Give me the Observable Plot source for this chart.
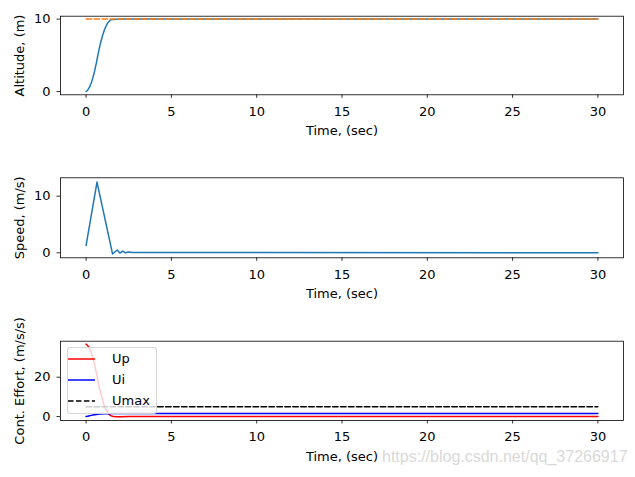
<!DOCTYPE html>
<html><head><meta charset="utf-8">
<script src="https://cdn.jsdelivr.net/npm/d3@7"></script>
<script src="https://cdn.jsdelivr.net/npm/@observablehq/plot@0.6"></script>
<style>
html,body{margin:0;padding:0;background:#fff;}
#fig{position:relative;width:635px;height:477px;overflow:hidden;font-family:"DejaVu Sans";}
#fig svg{position:absolute;left:0;top:0;}
#legend{position:absolute;left:67px;top:347px;width:90px;height:67px;box-sizing:border-box;background:rgba(255,255,255,0.8);border:1px solid rgba(204,204,204,0.8);border-radius:3px;}
.lrow{position:absolute;left:0;height:20px;}
.lrow svg{position:absolute;left:5px;top:0;}
.lrow span{position:absolute;left:44px;top:0;font:13px "DejaVu Sans";line-height:20px;color:#000;white-space:nowrap;}
#wm{position:absolute;left:382px;top:449px;font:16px "Liberation Sans";line-height:16px;color:#d9d9d9;white-space:nowrap;}
</style></head><body><div id="fig"></div>
<script>
// ---- data ----
const time     = [0,0.1,0.2,0.3,0.4,0.5,0.6,0.7,0.8,0.9,1.0,1.1,1.2,1.3,1.4,1.5,1.6,1.8,2.0,2.5,3.0,30];
const altitude = [0,0.22,0.61,1.18,1.92,2.84,3.93,5.14,6.23,7.18,7.99,8.66,9.19,9.57,9.82,9.93,9.95,9.99,10.0,10.0,10.0,10.0];
const refTime  = [0,30];
const altRef   = [10,10];

const speedTime = [0,0.64,1.55,1.68,1.82,1.98,2.14,2.3,2.48,2.7,3.0,30];
const speed     = [1.3,12.5,-0.2,0.15,0.5,-0.05,0.3,0.0,0.15,0.05,0.05,0.0];

const up   = [36.8,36.0,34.6,32.5,29.7,26.3,22.3,17.9,13.9,10.4,7.4,4.9,3.0,1.6,0.7,0.25,0.0,-0.15,-0.1,0,0,0];
const ui   = [0,0.21,0.41,0.6,0.78,0.94,1.08,1.2,1.28,1.35,1.4,1.44,1.46,1.48,1.49,1.5,1.5,1.5,1.5,1.5,1.5,1.5];
const umax = [5,5];

const xTicks = [0,5,10,15,20,25,30];
const altTicks = [0,10];
const speedTicks = [0,10];
const ctrlTicks = [0,20];
const xLabel = "Time, (sec)";
const yLabels = ["Altitude, (m)", "Speed, (m/s)", "Cont. Effort, (m/s/s)"];
const legendLabels = ["Up","Ui","Umax"];
const legendColors = ["#ff0000","#0000ff","#000000"];
const legendDash = [null,null,"5.55,2.4"];
const watermark = "https://blog.csdn.net/qq_37266917";

const BLUE = "#1f77b4", ORANGE = "#ff7f0e";
const W = 635, H = 477;
const fig = document.getElementById("fig");

function panel(o) {
  return Plot.plot({
    width: W, height: H,
    marginLeft: 60, marginRight: 12, marginTop: o.top, marginBottom: H - o.bottom,
    x: {domain: [-1.5, 31.5]},
    y: {domain: o.yDomain},
    style: {fontFamily: "DejaVu Sans", background: "transparent", overflow: "visible", color: "black"},
    marks: [
      ...o.marks,
      Plot.frame({stroke: "black", strokeWidth: 0.8}),
      Plot.axisX({ticks: xTicks, tickSize: 3.5, tickPadding: 8, fontSize: 13, strokeWidth: 0.8, label: null, tickFormat: d => String(d)}),
      Plot.axisY({ticks: o.yTicks, tickSize: 3.5, tickPadding: 6.5, fontSize: 13, strokeWidth: 0.8, label: null, tickFormat: d => String(d)}),
      Plot.text([xLabel], {text: d => d, frameAnchor: "bottom", textAnchor: "middle", lineAnchor: "bottom", dy: 40.5, fontSize: 13, fill: "black"}),
      Plot.text([o.yLabel], {text: d => d, frameAnchor: "left", textAnchor: "middle", lineAnchor: "bottom", rotate: -90, dx: -37, fontSize: 13, fill: "black"})
    ]
  });
}

fig.appendChild(panel({
  top: 15.7, bottom: 94.3, yDomain: [-0.45, 10.4], yTicks: altTicks, yLabel: yLabels[0],
  marks: [
    Plot.line(time, {x: time, y: altitude, stroke: BLUE, strokeWidth: 1.5}),
    Plot.line(refTime, {x: refTime, y: altRef, stroke: ORANGE, strokeWidth: 1.5, strokeDasharray: "5.55,2.4"})
  ]
}));
fig.appendChild(panel({
  top: 177.3, bottom: 257.3, yDomain: [-0.88, 13.25], yTicks: speedTicks, yLabel: yLabels[1],
  marks: [
    Plot.line(speedTime, {x: speedTime, y: speed, stroke: BLUE, strokeWidth: 1.5})
  ]
}));
fig.appendChild(panel({
  top: 340.7, bottom: 420, yDomain: [-2, 38.3], yTicks: ctrlTicks, yLabel: yLabels[2],
  marks: [
    Plot.line(time, {x: time, y: up, stroke: legendColors[0], strokeWidth: 1.5}),
    Plot.line(time, {x: time, y: ui, stroke: legendColors[1], strokeWidth: 1.5}),
    Plot.line(refTime, {x: refTime, y: umax, stroke: legendColors[2], strokeWidth: 1.5, strokeDasharray: legendDash[2]})
  ]
}));

// legend
const leg = document.createElement("div");
leg.id = "legend";
legendLabels.forEach((lab, i) => {
  const row = document.createElement("div");
  row.className = "lrow";
  row.style.top = (0.5 + i * 21.3) + "px";
  row.style.width = "88px";
  const dash = legendDash[i] ? ` stroke-dasharray="${legendDash[i]}"` : "";
  row.innerHTML = `<svg width="30" height="20"><line x1="0" x2="27" y1="10" y2="10" stroke="${legendColors[i]}" stroke-width="1.5"${dash}/></svg><span>${lab}</span>`;
  leg.appendChild(row);
});
fig.appendChild(leg);

const wm = document.createElement("div");
wm.id = "wm";
wm.textContent = watermark;
fig.appendChild(wm);
</script>
</body></html>
